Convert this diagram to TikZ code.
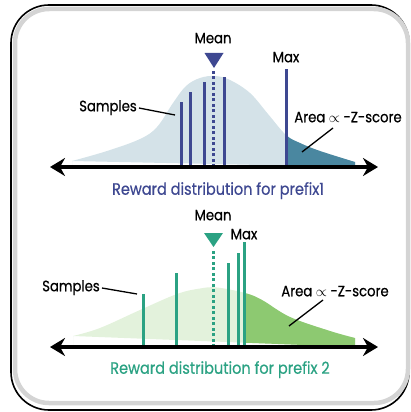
\documentclass[tikz,border=0pt]{standalone}
\usepackage{fontspec}
\setmainfont[FakeStretch=0.88, FakeBold=0.6]{Poppins}
\usetikzlibrary{arrows.meta}
\definecolor{cblue}{HTML}{3E4891}
\definecolor{lblue}{HTML}{D4E2E8}
\definecolor{dblue}{HTML}{4A87A0}
\definecolor{cgreen}{HTML}{2BA283}
\definecolor{lgreen}{HTML}{E3F2DC}
\definecolor{dgreen}{HTML}{8DC971}
\definecolor{framegray}{HTML}{D4D4D4}
\tikzset{
  lbl/.style={font=\fontsize{15}{17}\selectfont, inner sep=0pt, text height=10.5pt, text depth=0pt},
  captxt/.style={font=\fontsize{16.5}{18}\selectfont, inner sep=0pt, text height=11.5pt, text depth=0pt},
  axis/.style={line width=3.2pt, {Stealth[length=15pt,width=18pt,inset=5pt]}-{Stealth[length=15pt,width=18pt,inset=5pt]}},
  samp/.style={line width=3pt},
  meanline/.style={line width=3pt, dash pattern=on 3pt off 2.5pt},
  leader/.style={line width=1.3pt, black},
}
\begin{document}
\begin{tikzpicture}[x=1pt,y=-1pt]
\useasboundingbox (0,0) rectangle (411,412);
% frame
\draw[line width=1.6pt, rounded corners=38pt] (11,5) rectangle (409,410);
\draw[framegray, line width=4.5pt, rounded corners=34pt] (15,9) rectangle (408,403);

% ---------- top panel ----------
\def\topcurve{(72,167) -- (72,161) plot[smooth, tension=0.6] coordinates {(72,161) (107,151) (140,139) (157,127) (173,103) (186,86) (200,78) (215,76) (230,80) (250,93) (268,114) (286,135) (300,143) (320,151) (355,162)} -- (355,167) -- cycle}
\fill[lblue] \topcurve;
\begin{scope}
  \clip (287,0) rectangle (411,200);
  \fill[dblue] \topcurve;
\end{scope}
\coordinate (t1b) at (181,167); \coordinate (t1t) at (181,102);
\coordinate (t2b) at (190,167); \coordinate (t2t) at (190,92);
\coordinate (t3b) at (204,167); \coordinate (t3t) at (204,82);
\coordinate (t4b) at (224,167); \coordinate (t4t) at (224,77);
\coordinate (tmb) at (286,167); \coordinate (tmt) at (286,69);
\coordinate (tmeanb) at (213,167); \coordinate (tmeant) at (213,70);
\draw[cblue, samp] (t1b) -- (t1t);
\draw[cblue, samp] (t2b) -- (t2t);
\draw[cblue, samp] (t3b) -- (t3t);
\draw[cblue, samp] (t4b) -- (t4t);
\draw[cblue, samp] (tmb) -- (tmt);
\draw[cblue, meanline] (tmeanb) -- (tmeant);
\fill[cblue] (204.5,53) -- (223.5,53) -- (214,68) -- cycle;
\coordinate (tal) at (50,167); \coordinate (tar) at (378,167);
\draw[axis] (tal) -- (tar);
\node[lbl] (tmean) at (213,38) {Mean};
\node[lbl] (tmax) at (286,57) {Max};
\node[lbl] (tsamp) at (108,106) {Samples};
\node[lbl] (tarea) at (348,117) {Area $\propto$ -Z-score};
\node[captxt, text=cblue] (tcap) at (218,189) {Reward distribution for prefix1};
\coordinate (tsl) at (175,115);
\draw[leader] (tsamp.east) ++(2,2) -- (tsl);
\coordinate (tar1) at (333,128); \coordinate (tar2) at (302,152);
\draw[leader] (tar1) -- (tar2);

% ---------- bottom panel ----------
\def\botcurve{(73,347) -- (73,336) plot[smooth, tension=0.6] coordinates {(73,336) (100,328) (140,310) (177,294) (200,288.5) (217,287.5) (245,293) (262,300) (290,317) (330,331) (355,338)} -- (355,347) -- cycle}
\fill[lgreen] \botcurve;
\begin{scope}
  \clip (245,200) rectangle (411,412);
  \fill[dgreen] \botcurve;
\end{scope}
\coordinate (b1b) at (143,347); \coordinate (b1t) at (143,294);
\coordinate (b2b) at (176,347); \coordinate (b2t) at (176,273);
\coordinate (b3b) at (228,347); \coordinate (b3t) at (228,263);
\coordinate (b4b) at (238,347); \coordinate (b4t) at (238,253);
\coordinate (bmb) at (244,347); \coordinate (bmt) at (244,242);
\coordinate (bmeanb) at (213,347); \coordinate (bmeant) at (213,249);
\draw[cgreen, samp] (b1b) -- (b1t);
\draw[cgreen, samp] (b2b) -- (b2t);
\draw[cgreen, samp] (b3b) -- (b3t);
\draw[cgreen, samp] (b4b) -- (b4t);
\draw[cgreen, samp] (bmb) -- (bmt);
\draw[cgreen, meanline] (bmeanb) -- (bmeant);
\fill[cgreen] (204,233) -- (223,233) -- (213.5,247) -- cycle;
\coordinate (bal) at (50,347); \coordinate (bar) at (378,347);
\draw[axis] (bal) -- (bar);
\node[lbl] (bmean) at (213,215) {Mean};
\node[lbl] (bmax) at (244,234) {Max};
\node[lbl] (bsamp) at (71,286) {Samples};
\node[lbl] (barea) at (335,291) {Area $\propto$ -Z-score};
\node[captxt, text=cgreen] (bcap) at (220,368) {Reward distribution for prefix 2};
\coordinate (bsl) at (137,294);
\draw[leader] (bsamp.east) ++(2,2) -- (bsl);
\coordinate (bar1) at (323,300); \coordinate (bar2) at (289,326);
\draw[leader] (bar1) -- (bar2);
\end{tikzpicture}
\end{document}
